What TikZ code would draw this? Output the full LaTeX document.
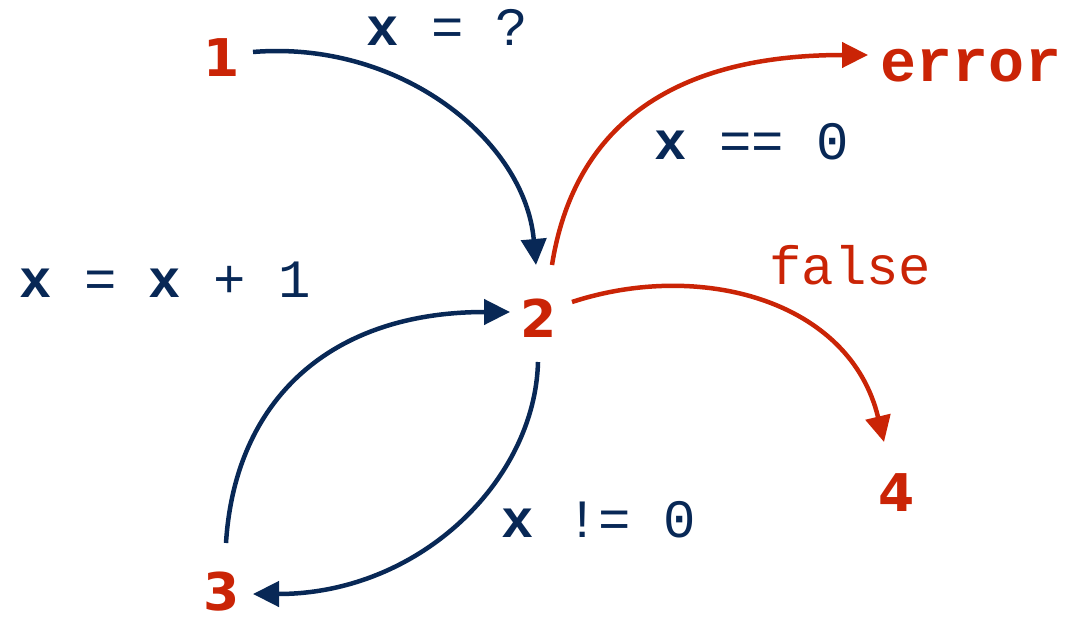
\documentclass[tikz,border=0pt]{standalone}
\usepackage{fontspec}
\usetikzlibrary{arrows.meta,calc}
\newfontfamily\monof{Liberation Mono}
\newfontfamily\sansf{DejaVu Sans}
\definecolor{navy}{RGB}{8,40,86}
\definecolor{cred}{RGB}{202,36,6}
\newcommand{\bx}{{\bfseries x}}
\tikzset{
  state/.style={text=cred,font=\sansf\bfseries\fontsize{52}{52}\selectfont,inner sep=0pt},
  lbl/.style={font=\monof\fontsize{54}{54}\selectfont,inner sep=0pt,anchor=base west},
  conn/.style={line width=4.5pt,-{Triangle[length=26pt,width=25pt]}},
}
\begin{document}
\begin{tikzpicture}[x=1pt,y=-1pt]
\useasboundingbox (0,0) rectangle (1091,617);
% states
\node[state] (n1) at (222,58) {1};
\node[state] (n2) at (539,318) {2};
\node[state] (n3) at (222,592) {3};
\node[state] (n4) at (897,493) {4};
\node[state,font=\monof\bfseries\fontsize{60}{60}\selectfont] (err) at (971,66) {error};
% labels
\node[lbl,text=navy] (l1) at (366,46) {\bx{} = ?};
\node[lbl,text=navy] (l2) at (654,160) {\bx{} == 0};
\node[lbl,text=cred] (l3) at (769,285) {false};
\node[lbl,text=navy] (l4) at (19,298) {\bx{} = \bx{} + 1};
\node[lbl,text=navy] (l5) at (501,537) {\bx{} != 0};
% connectors
\draw[conn,navy] ($(n1)+(31,-6)$) .. controls ($(n1)+(178,-18)$) and ($(n2)+(-14,-178)$) .. ($(n2)+(-3,-53)$);
\draw[conn,cred] ($(n2)+(13,-53)$) .. controls ($(n2)+(36,-198)$) and ($(err)+(-291,-11)$) .. ($(err)+(-103,-11)$);
\draw[conn,cred] ($(n2)+(33,-16)$) .. controls ($(n2)+(161,-58)$) and ($(n4)+(-47,-193)$) .. ($(n4)+(-13,-51)$);
\draw[conn,navy] ($(n3)+(4,-49)$) .. controls ($(n3)+(13,-192)$) and ($(n2)+(-209,-6)$) .. ($(n2)+(-29,-6)$);
\draw[conn,navy] ($(n2)+(-1,44)$) .. controls ($(n2)+(-4,162)$) and ($(n3)+(198,2)$) .. ($(n3)+(31,2)$);
\end{tikzpicture}
\end{document}
